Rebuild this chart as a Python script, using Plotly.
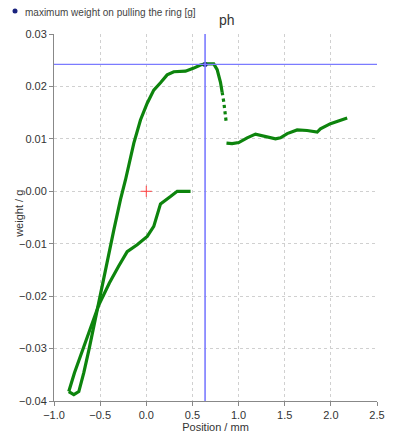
import plotly.graph_objects as go

# lower (return) branch, from the flat end going down to the bottom loop
low_x = [0.48, 0.40, 0.335, 0.262, 0.19, 0.154, 0.081, 0.010, -0.099, -0.207, -0.30, -0.40, -0.515, -0.689, -0.778, -0.840]
low_y = [0.0000, 0.0000, 0.0000, -0.0010, -0.0019, -0.0024, -0.0067, -0.0086, -0.0102, -0.0115, -0.0143, -0.0175, -0.0217, -0.0300, -0.0346, -0.0382]

# bottom of the loop and the steep rising branch up to the peak
up_x = [-0.840, -0.785, -0.731, -0.677, -0.62, -0.569, -0.515, -0.424, -0.352, -0.280, -0.225, -0.135, -0.063, 0.010, 0.081, 0.154, 0.226, 0.298, 0.425, 0.515, 0.587, 0.637, 0.731, 0.768, 0.804, 0.822]
up_y = [-0.0382, -0.0388, -0.0382, -0.0346, -0.0301, -0.0257, -0.0217, -0.0137, -0.0074, -0.0016, 0.0022, 0.0092, 0.0136, 0.0168, 0.0193, 0.0207, 0.0222, 0.0228, 0.0229, 0.0235, 0.0241, 0.0243, 0.0243, 0.0232, 0.0208, 0.0189]

# sparse falling part after the peak
drop_x = [0.822, 0.840, 0.866]
drop_y = [0.0189, 0.0170, 0.0132]

# right branch after the jump
right_x = [0.869, 0.93, 1.002, 1.093, 1.183, 1.273, 1.400, 1.454, 1.527, 1.635, 1.743, 1.852, 1.887, 1.996, 2.104, 2.177]
right_y = [0.0092, 0.0091, 0.0093, 0.0102, 0.0109, 0.0105, 0.0100, 0.0102, 0.0110, 0.0117, 0.0116, 0.0113, 0.0119, 0.0129, 0.0136, 0.0140]

peak_x = [0.637]
peak_y = [0.0242]
origin_x = [0.0]
origin_y = [0.0]
legend_label = "maximum weight on pulling the ring [g]"
title_text = "ph"

x_ticks = [-1.0, -0.5, 0.0, 0.5, 1.0, 1.5, 2.0, 2.5]
y_ticks = [-0.04, -0.03, -0.02, -0.01, 0.00, 0.01, 0.02, 0.03]

# page body adds an 8px offset, so the figure is sized to the visible area
W, H = 388, 437
L, T, PW, PH = 46, 26, 323, 367
green = "#0d840d"
fig = go.Figure()
for xs, ys, dash in [(low_x, low_y, "solid"), (up_x, up_y, "solid"), (drop_x, drop_y, "dot"), (right_x, right_y, "solid")]:
    fig.add_trace(go.Scatter(x=xs, y=ys, mode="lines", showlegend=False,
                             line=dict(color=green, width=3.2, dash=dash),
                             hoverinfo="skip"))
fig.add_trace(go.Scatter(x=origin_x, y=origin_y, mode="markers", showlegend=False,
                         marker=dict(symbol="cross-thin", size=8, line=dict(color="#ff4040", width=1))))
fig.add_trace(go.Scatter(x=peak_x, y=peak_y, mode="markers", name=legend_label, showlegend=False,
                         marker=dict(color="#1a237e", size=5)))

fig.add_shape(type="line", xref="x", yref="y", x0=x_ticks[0], x1=x_ticks[-1], y0=peak_y[0], y1=peak_y[0],
              line=dict(color="#7b7bff", width=1.3))
fig.add_shape(type="line", xref="x", yref="y", x0=peak_x[0], x1=peak_x[0], y0=y_ticks[0], y1=y_ticks[-1],
              line=dict(color="#7b7bff", width=1.6))

# legend drawn as a dot + text in the top-left corner
leg_y = 1 + (T - 4) / PH
fig.add_shape(type="circle", xref="paper", yref="paper", xsizemode="pixel", ysizemode="pixel",
              xanchor=(7 - L) / PW, yanchor=1 + (T - 3) / PH, x0=-2.5, x1=2.5, y0=-2.5, y1=2.5,
              fillcolor="#1a237e", line=dict(width=0))
fig.add_annotation(text=legend_label, xref="paper", yref="paper", x=(15 - L) / PW, y=leg_y,
                   xanchor="left", yanchor="middle", showarrow=False,
                   font=dict(size=10, color="#444444"))
# chart title, just right of the cursor line
fig.add_annotation(text=title_text, xref="paper", yref="paper", x=(209 - L) / PW, y=1 + (T - 12) / PH,
                   xanchor="left", yanchor="middle", showarrow=False,
                   font=dict(size=14, color="#333333"))
# y axis title, placed close to the tick labels as in the reference
fig.add_annotation(text="weight / g", xref="paper", yref="paper", x=(11 - L) / PW, y=0.51,
                   xanchor="center", yanchor="middle", showarrow=False, textangle=-90,
                   font=dict(size=11, color="#333333"))

axis_common = dict(showline=True, linecolor="#888888", linewidth=1, ticks="outside", ticklen=4,
                   tickcolor="#888888", gridcolor="#d0d0d0", griddash="dot", gridwidth=1,
                   zeroline=False, tickfont=dict(size=11, color="#333333"), mirror=False,
                   automargin=False, tickangle=0)
fig.update_xaxes(range=[-1.0, 2.5], tickvals=x_ticks, tickformat=".1f",
                 title=dict(text="Position / mm", font=dict(size=11, color="#333333"), standoff=2), **axis_common)
fig.update_yaxes(range=[-0.04, 0.03], tickvals=y_ticks, tickformat=".2f", **axis_common)

fig.update_layout(
    width=W, height=H,
    margin=dict(l=L, r=W - L - PW, t=T, b=H - T - PH),
    paper_bgcolor="white", plot_bgcolor="white",
    font=dict(family="Liberation Sans, Arial, sans-serif", color="#333333"),
    showlegend=False,
)
fig.write_html("out.html")
